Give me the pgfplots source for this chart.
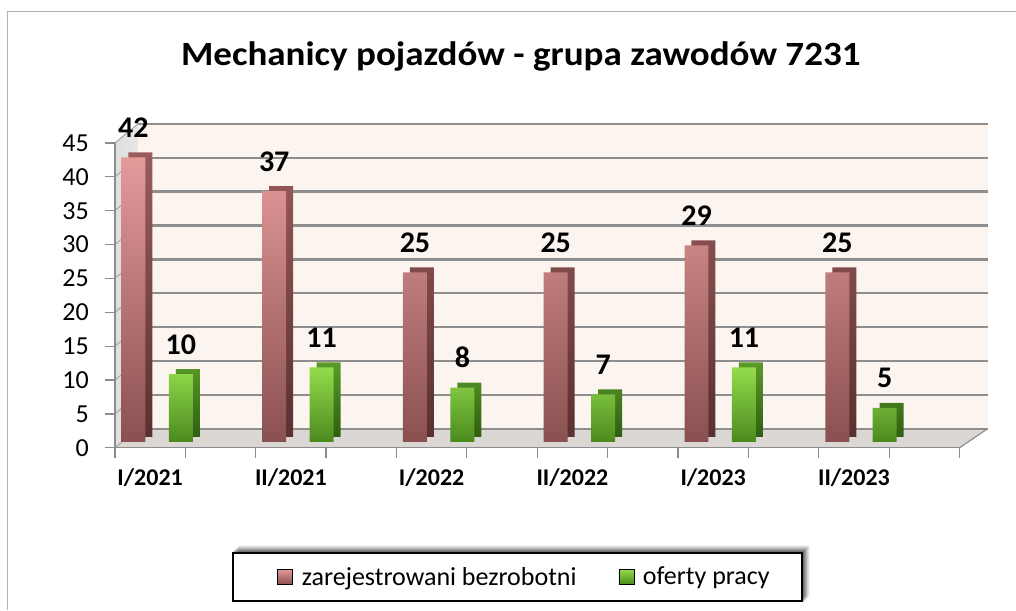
\documentclass[border=0pt]{standalone}
\usepackage{pgfplots}
\usepackage{pgfplotstable}
\pgfplotsset{compat=1.18}
\usepackage{fontspec}
\setmainfont{Carlito}
\definecolor{wall}{HTML}{FCF5EF}
\definecolor{gridc}{HTML}{8E8E8E}
\definecolor{floorc}{HTML}{DAD7D4}
\definecolor{lwall}{HTML}{D6D6D6}
\definecolor{pinkT}{HTML}{E59A9A}
\definecolor{pinkB}{HTML}{8A5050}
\definecolor{pinkST}{HTML}{9A5C5C}
\definecolor{pinkSB}{HTML}{5A3030}
\definecolor{greenT}{HTML}{94DC4C}
\definecolor{greenB}{HTML}{4A8A1E}
\definecolor{greenST}{HTML}{5A9A2A}
\definecolor{greenSB}{HTML}{2F5F10}

\pgfplotstableread{
x bezrob oferty
0 42 10
1 37 11
2 25 8
3 25 7
4 29 11
5 25 5
}\datatable

\begin{document}
\begin{tikzpicture}
\path (0,0) rectangle (1016bp,610bp);
\draw[black!30, line width=1bp] (8bp,0) -- (8bp,598bp) -- (1016bp,598bp);
% legend frame with soft shadow
\foreach \k/\o in {8/0.05,7/0.07,6/0.09,5/0.11,4/0.13,3/0.15,2/0.17}{
  \fill[black, opacity=\o] (233bp+\k bp-2bp, 9bp+\k bp-3bp) rectangle (802bp+\k bp, 57bp+\k bp);
}
\filldraw[fill=white, draw=black, line width=1.8bp] (233bp,9bp) rectangle (802bp,57bp);
\begin{axis}[
  set layers,
  scale only axis, width=845bp, height=305bp,
  at={(115bp,162bp)}, anchor=south west,
  xmin=0, xmax=6, ymin=0, ymax=45,
  clip=false,
  axis x line*=bottom, axis y line*=left,
  axis line style={draw=black!45, line width=1.2bp},
  tick align=outside,
  major tick length=10bp,
  tick style={draw=black!45, line width=1.2bp},
  ytick={0,5,...,45},
  xtick={0,0.5,...,6},
  xticklabels={},
  extra x ticks={0.25,1.25,2.25,3.25,4.25,5.25},
  extra x tick labels={I/2021,II/2021,I/2022,II/2022,I/2023,II/2023},
  extra x tick style={major tick length=0pt,
    xticklabel style={font=\fontsize{24bp}{28bp}\selectfont\bfseries, anchor=base, yshift=-38bp}},
  yticklabel style={font=\fontsize{26bp}{30bp}\selectfont, anchor=east, inner sep=0pt, xshift=-16bp},
  /pgf/number format/assume math mode=true,
  title={\scalebox{1.09}[1]{Mechanicy pojazdów - grupa zawodów 7231}},
  title style={font=\fontsize{34bp}{40bp}\selectfont\bfseries, at={(axis description cs:0.4805,1.236)}, anchor=base},
  legend style={at={(axis description cs:0.4850,-0.423)}, anchor=center,
    draw=none, fill=none,
    font=\fontsize{26bp}{31bp}\selectfont,
    inner xsep=0bp, inner ysep=0bp,
    /tikz/every odd column/.append style={column sep=0bp},
    /tikz/every even column/.append style={column sep=40bp}},
  legend columns=2,
  every node near coord/.append style={font=\fontsize{30bp}{36bp}\selectfont\bfseries, anchor=base, yshift=20bp},
]
\begin{pgfonlayer}{axis background}
  \fill[wall] ([shift={(23bp,19bp)}]axis cs:0,0) rectangle ([shift={(28bp,19bp)}]axis cs:6,45);
  \shade[left color=lwall!80, right color=lwall!60] (axis cs:0,0) -- (axis cs:0,45) -- ([shift={(23bp,19bp)}]axis cs:0,45) -- ([shift={(23bp,19bp)}]axis cs:0,0) -- cycle;
  \fill[floorc] (axis cs:0,0) -- (axis cs:6,0) -- ([shift={(28bp,19bp)}]axis cs:6,0) -- ([shift={(23bp,19bp)}]axis cs:0,0) -- cycle;
  \draw[gridc, line width=1.2bp] (axis cs:6,0) -- ([shift={(28bp,19bp)}]axis cs:6,0);
  \pgfplotsinvokeforeach{0,5,10,15,20,25,30,35,40,45}{
    \draw[gridc, line width=2.4bp] ([shift={(23bp,19bp)}]axis cs:0,#1) -- ([shift={(28bp,19bp)}]axis cs:6,#1);
    \draw[black!35, line width=1bp] (axis cs:0,#1) -- ([shift={(23bp,19bp)}]axis cs:0,#1);
  }
\end{pgfonlayer}

% side / depth faces
\addplot[ybar, forget plot, bar width=24bp, bar shift=25.5bp, yshift=11bp, draw=none,
  top color=pinkST, bottom color=pinkSB] table[x=x, y=bezrob] {\datatable};
\addplot[ybar, forget plot, bar width=24bp, bar shift=73bp, yshift=11bp, draw=none,
  top color=greenST, bottom color=greenSB] table[x=x, y=oferty] {\datatable};
% front faces
\addplot[ybar, forget plot, bar width=24bp, bar shift=18.5bp, yshift=6bp, draw=none,
  top color=pinkT, bottom color=pinkB, nodes near coords,
  every node near coord/.append style={xshift=18.5bp}] table[x=x, y=bezrob] {\datatable};
\addplot[ybar, forget plot, bar width=24bp, bar shift=66bp, yshift=6bp, draw=none,
  top color=greenT, bottom color=greenB, nodes near coords,
  every node near coord/.append style={xshift=66bp}] table[x=x, y=oferty] {\datatable};

\addlegendimage{legend image code/.code={\shade[top color=pinkT, bottom color=pinkB] (0bp,-7.5bp) rectangle (15bp,7.5bp);}}
\addlegendentry{\hspace{7bp}zarejestrowani bezrobotni}
\addlegendimage{legend image code/.code={\shade[top color=greenT, bottom color=greenB] (0bp,-7.5bp) rectangle (15bp,7.5bp);}}
\addlegendentry{\hspace{7bp}oferty pracy}
\end{axis}
\end{tikzpicture}
\end{document}
